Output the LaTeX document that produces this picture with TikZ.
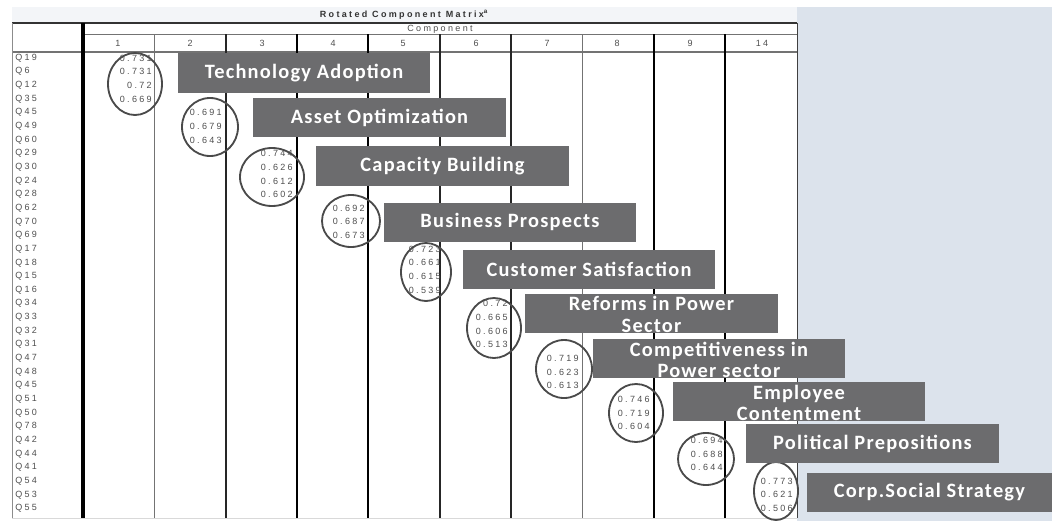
\documentclass[tikz,border=0pt]{standalone}
\usepackage{fontspec}
\setmainfont{Liberation Sans}
\newfontfamily\cellfont[LetterSpace=26]{Liberation Sans}
\newfontfamily\factfont[LetterSpace=6]{Carlito}
\usetikzlibrary{shapes.geometric}
\definecolor{panelblue}{HTML}{DCE3EC}
\definecolor{headband}{HTML}{F3F5F8}
\definecolor{factgray}{HTML}{6C6C6E}
\definecolor{cellgray}{HTML}{4F4F4F}
\definecolor{ringgray}{HTML}{4A4A4A}

\begin{document}
\begin{tikzpicture}[x=0.025cm, y=-0.025cm,
  cell/.style={font=\cellfont\fontsize{6.4}{7}\selectfont, text=cellgray, inner sep=0},
  qlab/.style={cell, anchor=west},
  load/.style={cell, anchor=east},
  grp/.style 2 args={ellipse, draw=ringgray, line width=1.3pt, minimum width=#1*0.025cm, minimum height=#2*0.025cm, inner sep=0},
  factor/.style={fill=factgray, minimum width=6.3cm, minimum height=0.975cm, inner sep=0},
  factxt/.style={font=\factfont\bfseries\fontsize{14.5}{15.5}\selectfont, text=white, align=center, inner sep=0}]

\fill[white] (0,0) rectangle (1052,521);
\fill[headband] (12,7) rectangle (797,23);
\fill[panelblue] (797,7) rectangle (1052,521);
\useasboundingbox (0,0) rectangle (1052,521);

\draw[line width=1.2pt, black!80] (12,23) -- (797,23);
\draw[black!55] (83,34) -- (797,34);
\draw[black!55, line width=0.8pt] (12,52) -- (797,52);
\draw[black!45] (12,23) -- (12,518);
\draw[black!15] (12,518) -- (797,518);
\draw[black!75] (797,23) -- (797,518);
\draw[line width=2.2pt] (83,23) -- (83,518);
\draw[black!55, line width=0.7pt] (154,34) -- (154,518) (582,34) -- (582,518);
\draw[black!85, line width=0.8pt] (226,34) -- (226,518) (440,34) -- (440,518) (511,34) -- (511,518);
\draw[line width=1.3pt] (297,34) -- (297,518) (368,34) -- (368,518) (725,34) -- (725,518);
\draw[line width=1.7pt] (654,34) -- (654,518);

\path (404,15) node[cell, font=\cellfont\bfseries\fontsize{6.4}{7}\selectfont, text=black!80] (title) {Rotated Component Matrix\textsuperscript{a}}
      (440,29) node[cell] (comp) {Component};
\path (118,43) node[cell] (h1) {1}  (190,43) node[cell] (h2) {2}  (262,43) node[cell] (h3) {3}
      (333,43) node[cell] (h4) {4}  (403,43) node[cell] (h5) {5}  (476,43) node[cell] (h6) {6}
      (547,43) node[cell] (h7) {7}  (617,43) node[cell] (h8) {8}  (690,43) node[cell] (h9) {9}
      (762,43) node[cell] (h14) {14};

\path (15,58) node[qlab] (r1) {Q19}      (15,71.7) node[qlab] (r2) {Q6}
      (15,85.3) node[qlab] (r3) {Q12}    (15,99) node[qlab] (r4) {Q35}
      (15,112.6) node[qlab] (r5) {Q45}   (15,126.3) node[qlab] (r6) {Q49}
      (15,139.9) node[qlab] (r7) {Q60}   (15,153.6) node[qlab] (r8) {Q29}
      (15,167.2) node[qlab] (r9) {Q30}   (15,180.9) node[qlab] (r10) {Q24}
      (15,194.5) node[qlab] (r11) {Q28}  (15,208.2) node[qlab] (r12) {Q62}
      (15,221.8) node[qlab] (r13) {Q70}  (15,235.5) node[qlab] (r14) {Q69}
      (15,249.1) node[qlab] (r15) {Q17}  (15,262.8) node[qlab] (r16) {Q18}
      (15,276.4) node[qlab] (r17) {Q15}  (15,290.1) node[qlab] (r18) {Q16}
      (15,303.7) node[qlab] (r19) {Q34}  (15,317.4) node[qlab] (r20) {Q33}
      (15,331) node[qlab] (r21) {Q32}    (15,344.7) node[qlab] (r22) {Q31}
      (15,358.3) node[qlab] (r23) {Q47}  (15,372) node[qlab] (r24) {Q48}
      (15,385.6) node[qlab] (r25) {Q45}  (15,399.3) node[qlab] (r26) {Q51}
      (15,412.9) node[qlab] (r27) {Q50}  (15,426.6) node[qlab] (r28) {Q78}
      (15,440.2) node[qlab] (r29) {Q42}  (15,453.9) node[qlab] (r30) {Q44}
      (15,467.5) node[qlab] (r31) {Q41}  (15,481.2) node[qlab] (r32) {Q54}
      (15,494.8) node[qlab] (r33) {Q53}  (15,508.5) node[qlab] (r34) {Q55};

\path (152,58) node[load] (l1) {0.731}    (152,71.7) node[load] (l2) {0.731}
      (152,85.3) node[load] (l3) {0.72}   (152,99) node[load] (l4) {0.669}
      (222,112.6) node[load] (l5) {0.691} (222,126.3) node[load] (l6) {0.679}
      (222,139.9) node[load] (l7) {0.643} (293,153.6) node[load] (l8) {0.744}
      (293,167.2) node[load] (l9) {0.626} (293,180.9) node[load] (l10) {0.612}
      (293,194.5) node[load] (l11) {0.602} (365,208.2) node[load] (l12) {0.692}
      (365,221.8) node[load] (l13) {0.687} (365,235.5) node[load] (l14) {0.673}
      (441,249.1) node[load] (l15) {0.723} (441,262.8) node[load] (l16) {0.661}
      (441,276.4) node[load] (l17) {0.615} (441,290.1) node[load] (l18) {0.539}
      (508,303.7) node[load] (l19) {0.72}  (508,317.4) node[load] (l20) {0.665}
      (508,331) node[load] (l21) {0.606}   (508,344.7) node[load] (l22) {0.513}
      (579,358.3) node[load] (l23) {0.719} (579,372) node[load] (l24) {0.623}
      (579,385.6) node[load] (l25) {0.613} (650,399.3) node[load] (l26) {0.746}
      (650,412.9) node[load] (l27) {0.719} (650,426.6) node[load] (l28) {0.604}
      (723,440.2) node[load] (l29) {0.694} (723,453.9) node[load] (l30) {0.688}
      (723,467.5) node[load] (l31) {0.644} (793,481.2) node[load] (l32) {0.773}
      (793,494.8) node[load] (l33) {0.621} (793,508.5) node[load] (l34) {0.506};

\node[grp={54}{62}] (c1) at (135,84) {};
\node[grp={56}{58}] (c2) at (210,127) {};
\node[grp={64}{58}] (c3) at (272,177) {};
\node[grp={58}{52}] (c4) at (351,221) {};
\node[grp={50}{58}] (c5) at (426,272) {};
\node[grp={54}{60}] (c6) at (494,328) {};
\node[grp={56}{58}] (c7) at (564,369) {};
\node[grp={54}{58}] (c8) at (636,413) {};
\node[grp={56}{52}] (c9) at (706,459) {};
\node[grp={44}{58}] (c10) at (776,491) {};

\node[factor, label={[factxt]center:Technology Adoption}] (tech) at (304,73) {};
\node[factor, label={[factxt]center:Asset Optimization}] (asset) at (379.5,117.5) {};
\node[factor, label={[factxt]center:Capacity Building}] (capac) at (442.5,166) {};
\node[factor, label={[factxt]center:Business Prospects}] (busin) at (510,222) {};
\node[factor, label={[factxt]center:Customer Satisfaction}] (custo) at (589,269.5) {};
\node[factor, label={[factxt, yshift=-1pt]center:{Reforms in Power\\Sector}}] (reform) at (651.5,313) {};
\node[factor, label={[factxt, yshift=-1.4pt]center:{Competitiveness in\\Power sector}}] (compet) at (719,358) {};
\node[factor, label={[factxt, yshift=-1pt]center:{Employee\\Contentment}}] (emplo) at (799,401.5) {};
\node[factor, label={[factxt]center:Political Prepositions}] (polit) at (872.5,443.5) {};
\node[factor, minimum width=6.125cm, label={[factxt]center:Corp.Social Strategy}] (corp) at (929.5,492.5) {};

\end{tikzpicture}
\end{document}
